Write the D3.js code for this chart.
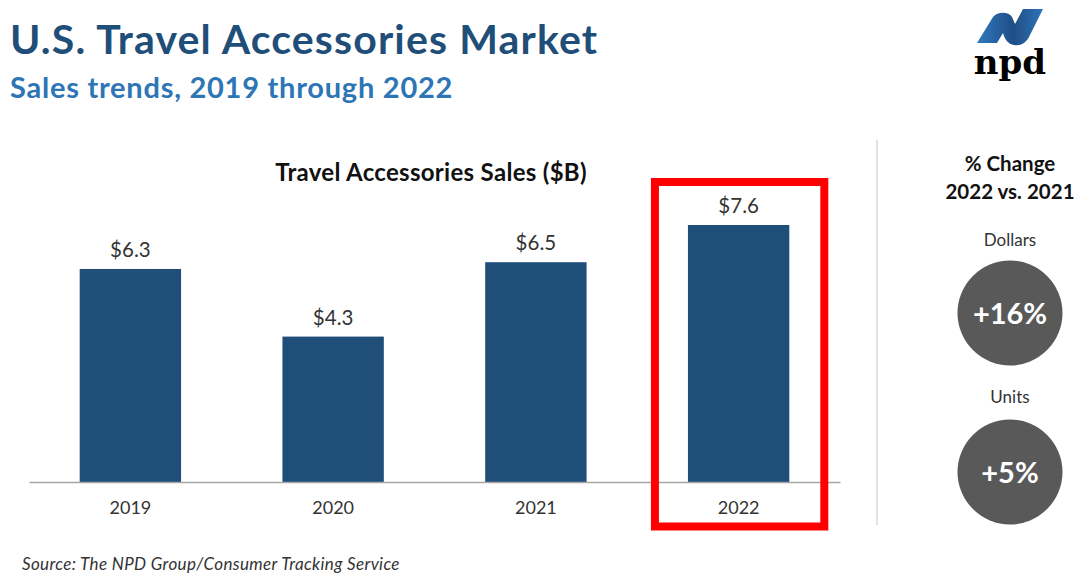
<!DOCTYPE html>
<html>
<head>
<meta charset="utf-8">
<script src="https://cdn.jsdelivr.net/npm/d3@7"></script>
<style>
  html, body { margin: 0; padding: 0; background: #fff; }
  text { font-family: Lato, "Open Sans", sans-serif; }
</style>
</head>
<body>
<svg id="chart"></svg>
<script>
const years = ["2019", "2020", "2021", "2022"];
const sales = [6.3, 4.3, 6.5, 7.6];
const highlightYear = "2022";
const changeLabels = ["Dollars", "Units"];
const changeValues = ["+16%", "+5%"];

const svg = d3.select("#chart")
  .attr("width", 1080)
  .attr("height", 580)
  .style("display", "block");

const xScale = d3.scaleBand()
  .domain(years)
  .range([29, 840])
  .paddingInner(0.5)
  .paddingOuter(0.25);

const yScale = d3.scaleLinear()
  .domain([0, 7.6])
  .range([482, 225]);

const addText = (x, y, str, size, color, weight, anchor) => svg.append("text")
  .attr("x", x)
  .attr("y", y)
  .attr("font-size", size)
  .attr("font-weight", weight || 400)
  .attr("fill", color)
  .attr("text-anchor", anchor || "middle")
  .text(str);

// headings
addText(10, 54, "U.S. Travel Accessories Market", 41, "#1f4e79", 700, "start")
  .attr("letter-spacing", 1.15);
addText(10, 98, "Sales trends, 2019 through 2022", 29, "#2e75b6", 700, "start")
  .attr("letter-spacing", 0.75);
addText(431, 181, "Travel Accessories Sales ($B)", 24, "#111", 700)
  .attr("letter-spacing", 0.3);

// bars
svg.append("g")
  .selectAll("rect")
  .data(years)
  .join("rect")
    .attr("x", d => xScale(d))
    .attr("y", (d, i) => yScale(sales[i]))
    .attr("width", xScale.bandwidth())
    .attr("height", (d, i) => yScale(0) - yScale(sales[i]))
    .attr("fill", "#1f4e79");

svg.append("g")
  .selectAll("text")
  .data(years)
  .join("text")
    .attr("x", d => xScale(d) + xScale.bandwidth() / 2)
    .attr("y", (d, i) => yScale(sales[i]) - 12)
    .attr("text-anchor", "middle")
    .attr("font-size", 20.5)
    .attr("fill", "#333")
    .text((d, i) => `$${sales[i].toFixed(1)}`);

// x axis
const xAxis = d3.axisBottom(xScale).tickSize(0).tickPadding(19);
const xAxisG = svg.append("g")
  .attr("transform", `translate(0, ${yScale(0)})`)
  .call(xAxis);
xAxisG.select(".domain").attr("stroke", "#a6a6a6").attr("stroke-width", 1.5);
xAxisG.selectAll("text")
  .attr("font-size", 18)
  .attr("fill", "#333")
  .style("font-family", "Lato, sans-serif");

// red box round the last year
svg.append("rect")
  .attr("x", xScale(highlightYear) - 33)
  .attr("y", 182)
  .attr("width", xScale.bandwidth() + 68)
  .attr("height", 344.5)
  .attr("fill", "none")
  .attr("stroke", "#ff0000")
  .attr("stroke-width", 8);

// side panel
svg.append("line")
  .attr("x1", 877).attr("x2", 877)
  .attr("y1", 140).attr("y2", 525)
  .attr("stroke", "#d9d9d9")
  .attr("stroke-width", 1.5);

addText(1010, 171, "% Change", 20.5, "#111", 700);
addText(1010, 199, "2022 vs. 2021", 20.5, "#111", 700);

const circleY = [313, 472];
const labelY = [246, 403];
changeLabels.forEach((label, i) => {
  addText(1010, labelY[i], label, 17, "#333");
  svg.append("circle")
    .attr("cx", 1010)
    .attr("cy", circleY[i])
    .attr("r", 52.5)
    .attr("fill", "#595959");
  addText(1010, circleY[i] + 11, changeValues[i], 29, "#fff", 700);
});

addText(22, 570, "Source: The NPD Group/Consumer Tracking Service", 17, "#333", 400, "start")
  .attr("font-style", "italic")
  .attr("letter-spacing", 0.35);

// logo
const logoGrad = svg.append("defs").append("linearGradient")
  .attr("id", "logoBlue")
  .attr("x1", 0).attr("x2", 1).attr("y1", 0).attr("y2", 0);
logoGrad.append("stop").attr("offset", "0").attr("stop-color", "#3179bf");
logoGrad.append("stop").attr("offset", "0.55").attr("stop-color", "#1f4e86");
logoGrad.append("stop").attr("offset", "1").attr("stop-color", "#2f74b8");
svg.append("path")
  .attr("d", "M977 43 L993 17 C997 12 1008 11 1012 17 L1015 24 L1023 9 L1043 9 L1030 35 C1026 44 1020 46 1014 45 C1008 44 1005 40 1003 33 L997 43 Z")
  .attr("fill", "url(#logoBlue)");
addText(1010, 74, "npd", 34, "#000", 700)
  .style("font-family", "'DejaVu Serif', serif");
</script>
</body>
</html>
